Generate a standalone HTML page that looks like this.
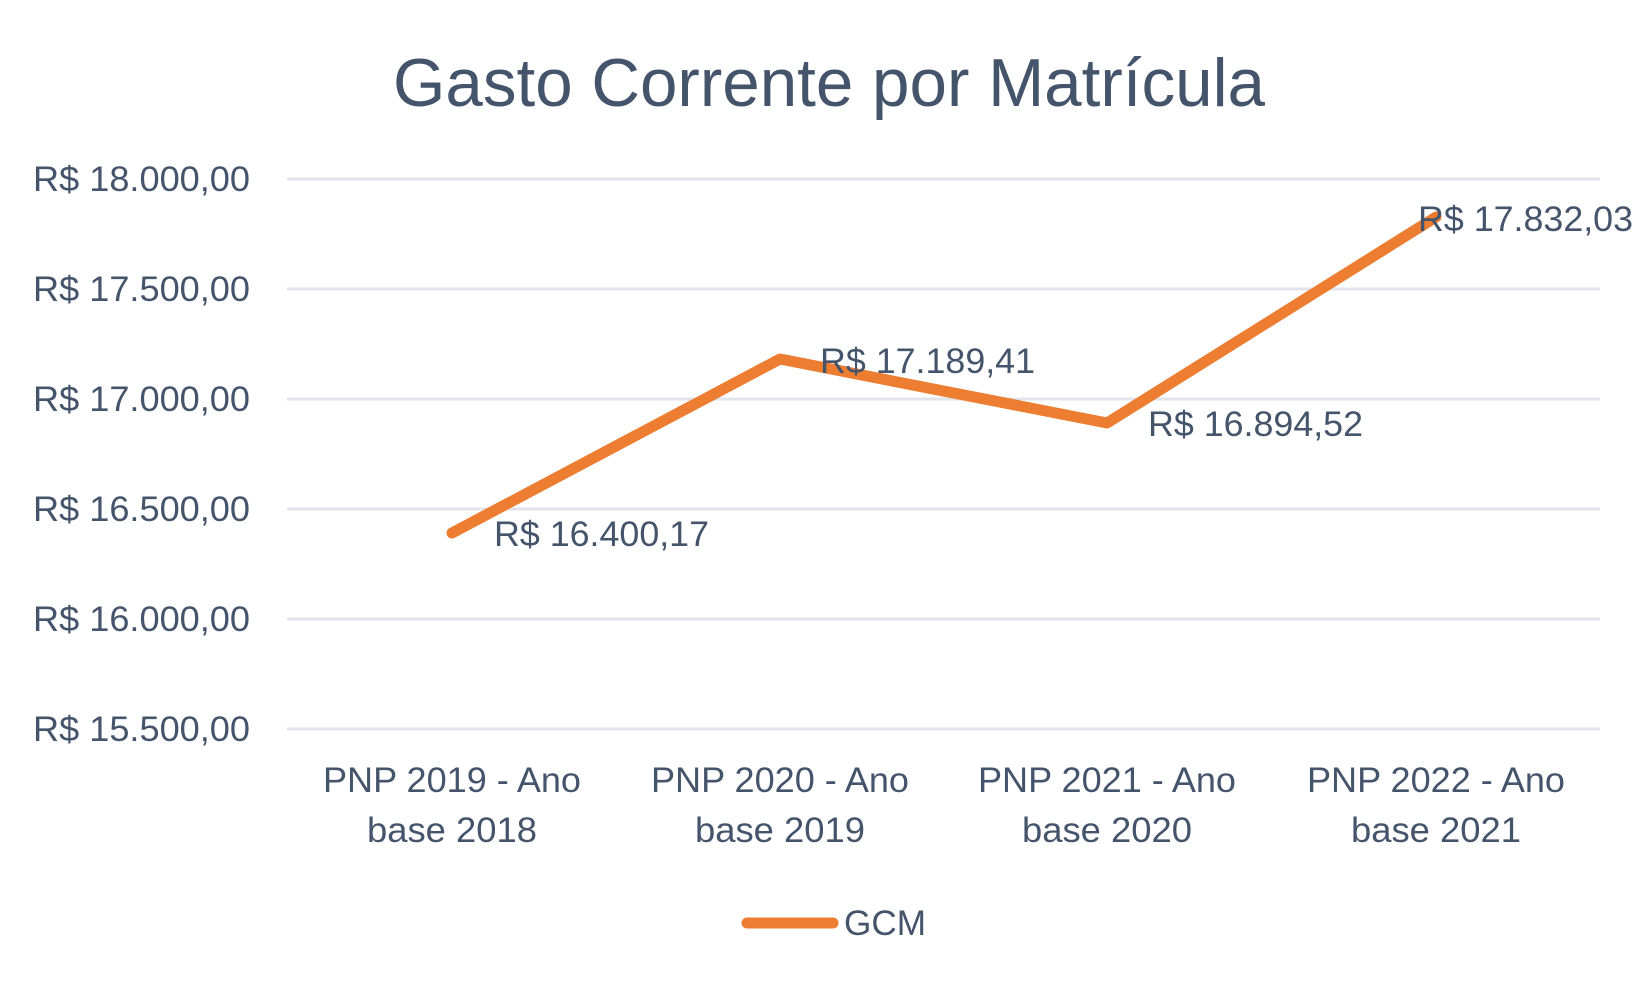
<!DOCTYPE html>
<html><head><meta charset="utf-8"><style>
html,body{margin:0;padding:0;background:#fff;}
svg text{font-family:"Liberation Sans",sans-serif;fill:#44546A;}
</style></head><body>
<svg width="1650" height="990" viewBox="0 0 1650 990" xmlns="http://www.w3.org/2000/svg">
<text x="829" y="106" font-size="68" text-anchor="middle" textLength="872" lengthAdjust="spacingAndGlyphs">Gasto Corrente por Matrícula</text>
<g stroke="#E1E5EB" stroke-width="3">
<line x1="287" y1="179" x2="1600" y2="179"/>
<line x1="287" y1="289" x2="1600" y2="289"/>
<line x1="287" y1="399" x2="1600" y2="399"/>
<line x1="287" y1="509" x2="1600" y2="509"/>
<line x1="287" y1="619" x2="1600" y2="619"/>
<line x1="287" y1="729" x2="1600" y2="729"/>
</g>
<g font-size="35" text-anchor="end">
<text x="250" y="191" textLength="217" lengthAdjust="spacingAndGlyphs">R$ 18.000,00</text>
<text x="250" y="301" textLength="217" lengthAdjust="spacingAndGlyphs">R$ 17.500,00</text>
<text x="250" y="411" textLength="217" lengthAdjust="spacingAndGlyphs">R$ 17.000,00</text>
<text x="250" y="521" textLength="217" lengthAdjust="spacingAndGlyphs">R$ 16.500,00</text>
<text x="250" y="631" textLength="217" lengthAdjust="spacingAndGlyphs">R$ 16.000,00</text>
<text x="250" y="741" textLength="217" lengthAdjust="spacingAndGlyphs">R$ 15.500,00</text>
</g>
<polyline points="452,533 780,359 1107,423 1436,217" fill="none" stroke="#ED7D31" stroke-width="11" stroke-linecap="round" stroke-linejoin="round"/>
<g font-size="35">
<text x="494" y="546" textLength="215" lengthAdjust="spacingAndGlyphs">R$ 16.400,17</text>
<text x="820" y="373" textLength="215" lengthAdjust="spacingAndGlyphs">R$ 17.189,41</text>
<text x="1148" y="436" textLength="215" lengthAdjust="spacingAndGlyphs">R$ 16.894,52</text>
<text x="1418" y="231" textLength="215" lengthAdjust="spacingAndGlyphs">R$ 17.832,03</text>
</g>
<g font-size="35" text-anchor="middle">
<text x="452" y="792" textLength="258" lengthAdjust="spacingAndGlyphs">PNP 2019 - Ano</text>
<text x="452" y="842" textLength="170" lengthAdjust="spacingAndGlyphs">base 2018</text>
<text x="780" y="792" textLength="258" lengthAdjust="spacingAndGlyphs">PNP 2020 - Ano</text>
<text x="780" y="842" textLength="170" lengthAdjust="spacingAndGlyphs">base 2019</text>
<text x="1107" y="792" textLength="258" lengthAdjust="spacingAndGlyphs">PNP 2021 - Ano</text>
<text x="1107" y="842" textLength="170" lengthAdjust="spacingAndGlyphs">base 2020</text>
<text x="1436" y="792" textLength="258" lengthAdjust="spacingAndGlyphs">PNP 2022 - Ano</text>
<text x="1436" y="842" textLength="170" lengthAdjust="spacingAndGlyphs">base 2021</text>
</g>
<line x1="747" y1="923" x2="833" y2="923" stroke="#ED7D31" stroke-width="11" stroke-linecap="round"/>
<text x="844" y="935" font-size="35" textLength="82" lengthAdjust="spacingAndGlyphs">GCM</text>
</svg>
</body></html>
